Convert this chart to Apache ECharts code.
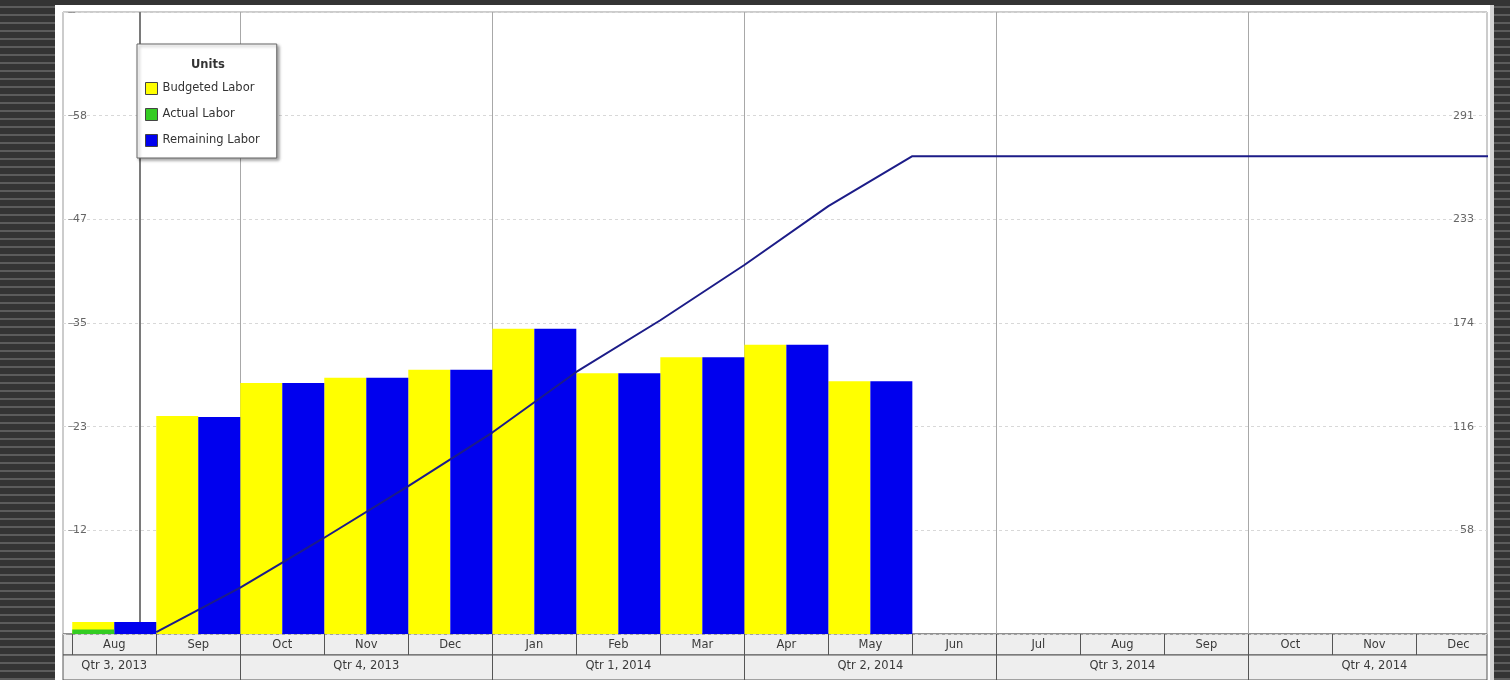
<!DOCTYPE html>
<html><head><meta charset="utf-8">
<script src="https://cdn.jsdelivr.net/npm/echarts@6/dist/echarts.min.js"></script>
<style>
html,body{margin:0;padding:0;width:1510px;height:680px;overflow:hidden;
background:repeating-linear-gradient(to bottom,#343434 0px,#343434 6px,#5c5c5c 6px,#5c5c5c 8px);}
#panel{position:absolute;left:55px;top:5px;width:1435px;height:675px;background:#fff;border-right:4px solid #d4d4d4;}
#chart{position:absolute;left:0;top:0;width:1510px;height:680px;}
</style></head><body><div id="panel"></div><div id="chart"></div>
<script>
// ---- data ----
const months = ['Aug','Sep','Oct','Nov','Dec','Jan','Feb','Mar','Apr','May','Jun','Jul','Aug','Sep','Oct','Nov','Dec'];
const quarters = ['Qtr 3, 2013','Qtr 4, 2013','Qtr 1, 2014','Qtr 2, 2014','Qtr 3, 2014','Qtr 4, 2014'];
const quarterStartMonth = [-1, 2, 5, 8, 11, 14];      // index into months where each quarter begins
const budgetedLabor  = [1.35, 24.5, 28.2, 28.8, 29.7, 34.3, 29.3, 31.1, 32.5, 28.4];
const actualLabor    = [0.5];
const remainingLabor = [1.35, 24.4, 28.2, 28.8, 29.7, 34.3, 29.3, 31.1, 32.5, 28.4];
const cumulativeLabor = [1, 26, 54, 83, 113, 147, 176, 207, 240, 268, 268, 268, 268, 268, 268, 268, 268]; // at month ends
const leftTickLabels  = ['12','23','35','47','58'];
const rightTickLabels = ['58','116','174','233','291'];
const leftInterval = 11.65, rightInterval = 58.15;
const dataDate = 0.8;   // position of data date within timeline (months from Aug 2013 start)

// ---- layout ----
const X_MIN = -0.11, X_MAX = 16.84;
const FONT = "'DejaVu Sans', 'Liberation Sans', Arial, sans-serif";
const monthBounds = months.map((m, i) => i);
const monthCenters = months.map((m, i) => i + 0.5);
const quarterBounds = quarterStartMonth.filter(v => v > X_MIN);
const quarterCenters = quarterStartMonth.map(v => v + 1.5);

const chart = echarts.init(document.getElementById('chart'), null, {renderer: 'canvas'});
const baseX = {type: 'value', min: X_MIN, max: X_MAX};
const bandText = {fontSize: 11.5, color: '#3a3a3a', fontFamily: FONT};

chart.setOption({
  backgroundColor: 'transparent',
  animation: false,
  textStyle: {fontFamily: FONT},
  title: {
    text: 'Units', left: 186, top: 54, z: 10,
    textStyle: {fontSize: 11.5, fontWeight: 'bold', color: '#333', fontFamily: FONT}
  },
  legend: {
    orient: 'vertical', left: 137, top: 44, selectedMode: false,
    data: ['Budgeted Labor', 'Actual Labor', 'Remaining Labor'],
    padding: [38, 17, 11, 8], itemGap: 13, itemWidth: 12, itemHeight: 12,
    icon: 'rect',
    itemStyle: {borderColor: '#444', borderWidth: 1},
    backgroundColor: '#fff', borderColor: '#666', borderWidth: 1,
    shadowColor: 'rgba(0,0,0,0.35)', shadowBlur: 3, shadowOffsetX: 2, shadowOffsetY: 2,
    textStyle: {fontSize: 11.5, color: '#333', fontFamily: FONT},
    z: 8
  },
  grid: [
    {left: 63, right: 23, top: 12, bottom: 46, show: true, backgroundColor: '#fff', borderColor: '#999', borderWidth: 1},
    {left: 63, right: 23, top: 634, height: 21, show: true, backgroundColor: '#eeeeee', borderColor: '#555', borderWidth: 1},
    {left: 63, right: 23, top: 655, bottom: 0, show: true, backgroundColor: '#eeeeee', borderColor: '#555', borderWidth: 1}
  ],
  xAxis: [
    Object.assign({gridIndex: 0, show: false}, baseX),
    Object.assign({gridIndex: 1, position: 'bottom',
      axisLine: {show: false},
      axisTick: {show: true, inside: true, length: 21, customValues: monthBounds, lineStyle: {color: '#555'}},
      axisLabel: Object.assign({show: true, inside: true, margin: 4, customValues: monthCenters,
        formatter: v => months[Math.round(v - 0.5)] || ''}, bandText),
      splitLine: {show: false}}, baseX),
    Object.assign({gridIndex: 2, position: 'bottom',
      axisLine: {show: false},
      axisTick: {show: true, inside: true, length: 25, customValues: quarterBounds, lineStyle: {color: '#555'}},
      axisLabel: Object.assign({show: true, inside: true, margin: 8, customValues: quarterCenters,
        formatter: v => quarters[quarterCenters.indexOf(v)] || ''}, bandText),
      splitLine: {show: false}}, baseX),
    Object.assign({gridIndex: 0, show: false}, baseX)
  ],
  yAxis: [
    {gridIndex: 0, type: 'value', position: 'left', min: 0, max: leftInterval * 6, interval: leftInterval,
      axisLine: {show: false},
      axisTick: {show: true, inside: true, length: 3, lineStyle: {color: '#999'}},
      axisLabel: {inside: true, margin: 10, fontSize: 11, color: '#666', fontFamily: FONT,
        formatter: v => leftTickLabels[Math.round(v / leftInterval) - 1] || ''},
      splitLine: {show: true, lineStyle: {color: '#d8d8d8', type: [3, 3], width: 1}}},
    {gridIndex: 0, type: 'value', position: 'right', min: 0, max: rightInterval * 6, interval: rightInterval,
      axisLine: {show: false},
      axisTick: {show: true, inside: true, length: 4, lineStyle: {color: '#999'}},
      axisLabel: {inside: true, margin: 13, fontSize: 11, color: '#666', fontFamily: FONT,
        formatter: v => rightTickLabels[Math.round(v / rightInterval) - 1] || ''},
      splitLine: {show: false}},
    {gridIndex: 1, type: 'value', min: 0, max: 1, show: false},
    {gridIndex: 2, type: 'value', min: 0, max: 1, show: false}
  ],
  series: [
    {name: 'Budgeted Labor', type: 'bar', xAxisIndex: 0, yAxisIndex: 0, barWidth: 42, barGap: '0%',
      itemStyle: {color: '#ffff00'}, z: 3,
      data: budgetedLabor.map((v, i) => [i + 0.5, v])},
    {name: 'Remaining Labor', type: 'bar', xAxisIndex: 0, yAxisIndex: 0, barWidth: 42, barGap: '0%',
      itemStyle: {color: '#0000ee'}, z: 3,
      data: remainingLabor.map((v, i) => [i + 0.5, v])},
    {name: 'Actual Labor', type: 'bar', xAxisIndex: 3, yAxisIndex: 0, barWidth: 42, barGap: '0%',
      itemStyle: {color: '#33cc22'}, z: 4,
      data: actualLabor.map((v, i) => [i + 0.5, v])},
    {name: '_slot', type: 'bar', xAxisIndex: 3, yAxisIndex: 0, barWidth: 42, barGap: '0%', data: []},
    {name: 'Cumulative', type: 'line', xAxisIndex: 0, yAxisIndex: 1, symbol: 'none', z: 5,
      lineStyle: {color: '#1c1c88', width: 2},
      data: cumulativeLabor.map((v, i) => [i + 1, v]),
      markLine: {silent: true, symbol: ['none', 'none'], label: {show: false}, z: 2,
        lineStyle: {color: '#a8a8a8', type: 'solid', width: 1},
        data: quarterBounds.map(q => ({xAxis: q})).concat([{xAxis: dataDate, lineStyle: {color: '#7a7a7a', width: 2, type: 'solid'}}])}}
  ]
});
</script>
</body></html>
